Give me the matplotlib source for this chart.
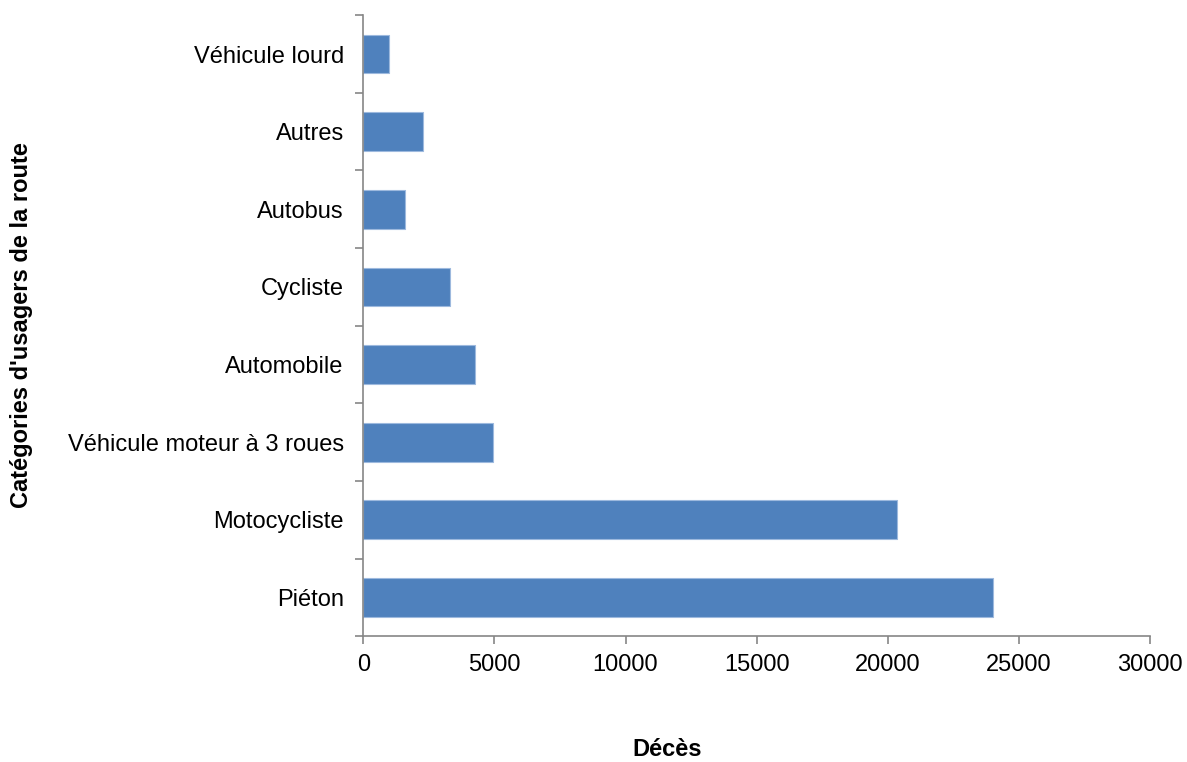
import numpy as np
import matplotlib.pyplot as plt

plt.rcParams['font.family'] = ['Liberation Sans', 'DejaVu Sans']

categories = ["Piéton", "Motocycliste", "Véhicule moteur à 3 roues", "Automobile",
              "Cycliste", "Autobus", "Autres", "Véhicule lourd"]
deces = [24020, 20330, 4960, 4250, 3300, 1610, 2280, 970]
xticks = [0, 5000, 10000, 15000, 20000, 25000, 30000]

fig = plt.figure(figsize=(11.87, 7.62), dpi=100)
ax = fig.add_axes([0.306, 0.165, 0.663, 0.815])

y = np.arange(len(categories))
ax.barh(y, deces, height=0.5, color="#4F81BD", edgecolor="#9DB9DE", linewidth=0.8)

ax.set_xlim(0, 30000)
ax.set_ylim(-0.5, len(categories) - 0.5)
ax.set_xticks(xticks)
ax.set_xticklabels([str(v) for v in xticks], fontsize=17)
ax.set_yticks(y)
ax.set_yticklabels(categories, fontsize=17)
ax.set_yticks(np.arange(-0.5, len(categories), 1.0), minor=True)

ax.tick_params(axis='y', which='major', length=0, pad=14)
ax.tick_params(axis='y', which='minor', length=6, width=1.2, color="#868686", direction='out')
ax.tick_params(axis='x', length=6, width=1.2, color="#868686", direction='out', pad=7)

for s in ['top', 'right']:
    ax.spines[s].set_visible(False)
for s in ['left', 'bottom']:
    ax.spines[s].set_color("#868686")
    ax.spines[s].set_linewidth(1.2)

fig.text(0.562, 0.016, "Décès", fontsize=17, fontweight='bold', ha='center', va='center')
fig.text(0.018, 0.573, "Catégories d'usagers de la route", fontsize=17, fontweight='bold',
         rotation=90, ha='center', va='center')

fig.savefig("out.png", dpi=100)
